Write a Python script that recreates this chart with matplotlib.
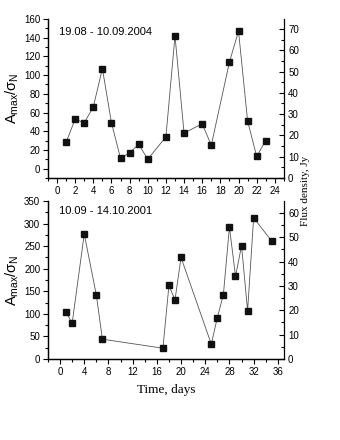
import matplotlib.pyplot as plt
import matplotlib as mpl
from matplotlib.ticker import MultipleLocator

mpl.rcParams['font.family'] = ['Liberation Sans', 'DejaVu Sans']
mpl.rcParams['mathtext.fontset'] = 'custom'
mpl.rcParams['mathtext.rm'] = 'Liberation Sans'
mpl.rcParams['mathtext.it'] = 'Liberation Sans:italic'

# ---- data: 19.08 - 10.09.2004 ----
days_2004 = [1, 2, 3, 4, 5, 6, 7, 8, 9, 10, 12, 13, 14, 16, 17, 19, 20, 21, 22, 23]
amp_2004 = [28, 53, 49, 66, 107, 49, 11, 17, 26, 10, 34, 142, 38, 48, 25, 114, 147, 51, 13, 30]
label_2004 = "19.08 - 10.09.2004"

# ---- data: 10.09 - 14.10.2001 ----
days_2001 = [1, 2, 4, 6, 7, 17, 18, 19, 20, 25, 26, 27, 28, 29, 30, 31, 32, 35]
amp_2001 = [104, 79, 277, 142, 44, 24, 163, 131, 225, 33, 92, 143, 293, 183, 251, 107, 313, 261]
label_2001 = "10.09 - 14.10.2001"

ylabel = r'$\mathrm{A_{max}/\sigma_N}$'

fig = plt.figure(figsize=(3.4, 4.4), dpi=100)


def setup(ax, ax2, xlim, ylim, ylim2, xmaj, xmin, ymaj, ymin, y2maj, y2min, title, ty):
    ax.set_xlim(*xlim)
    ax.set_ylim(*ylim)
    ax2.set_ylim(*ylim2)
    ax.xaxis.set_major_locator(MultipleLocator(xmaj))
    ax.xaxis.set_minor_locator(MultipleLocator(xmin))
    ax.yaxis.set_major_locator(MultipleLocator(ymaj))
    ax.yaxis.set_minor_locator(MultipleLocator(ymin))
    ax2.yaxis.set_major_locator(MultipleLocator(y2maj))
    ax2.yaxis.set_minor_locator(MultipleLocator(y2min))
    for a in (ax, ax2):
        a.spines['top'].set_visible(False)
        for s in a.spines.values():
            s.set_linewidth(0.9)
    ax.spines['right'].set_visible(False)
    ax.tick_params(which='both', direction='out', labelsize=7, width=0.8, pad=2)
    ax.tick_params(which='major', length=3.5)
    ax.tick_params(which='minor', length=2)
    ax.tick_params(axis='y', right=False)
    ax2.tick_params(which='both', direction='in', labelsize=7, width=0.8, pad=3)
    ax2.tick_params(which='major', length=3.5)
    ax2.tick_params(which='minor', length=2)
    ax.set_ylabel(ylabel, fontsize=10.5, labelpad=2)
    ax.text(0.045, ty, title, transform=ax.transAxes, fontsize=8, va='center', ha='left')


# upper panel
ax1 = fig.add_axes([0.141, 0.5955, 0.694, 0.3614])
ax1b = ax1.twinx()
ax1.plot(days_2004, amp_2004, color='#555555', lw=0.6, marker='s', ms=4.2,
         mfc='#111111', mec='#111111')
setup(ax1, ax1b, (-1, 25), (-10, 160), (0, 74.7), 2, 1, 20, 10, 10, 5, label_2004, 0.92)

# lower panel
ax2 = fig.add_axes([0.141, 0.184, 0.694, 0.359])
ax2b = ax2.twinx()
ax2.plot(days_2001, amp_2001, color='#555555', lw=0.6, marker='s', ms=4.2,
         mfc='#111111', mec='#111111')
setup(ax2, ax2b, (-2, 37), (0, 350), (0, 64.8), 4, 2, 50, 25, 10, 5, label_2001, 0.94)
ax2.set_xlabel('Time, days', family='Liberation Serif', fontsize=9.5, labelpad=5)

fig.text(0.9, 0.566, 'Flux density, Jy', rotation=90, family='Liberation Serif',
         fontsize=8, ha='center', va='center')

fig.savefig('out.png', dpi=100)
